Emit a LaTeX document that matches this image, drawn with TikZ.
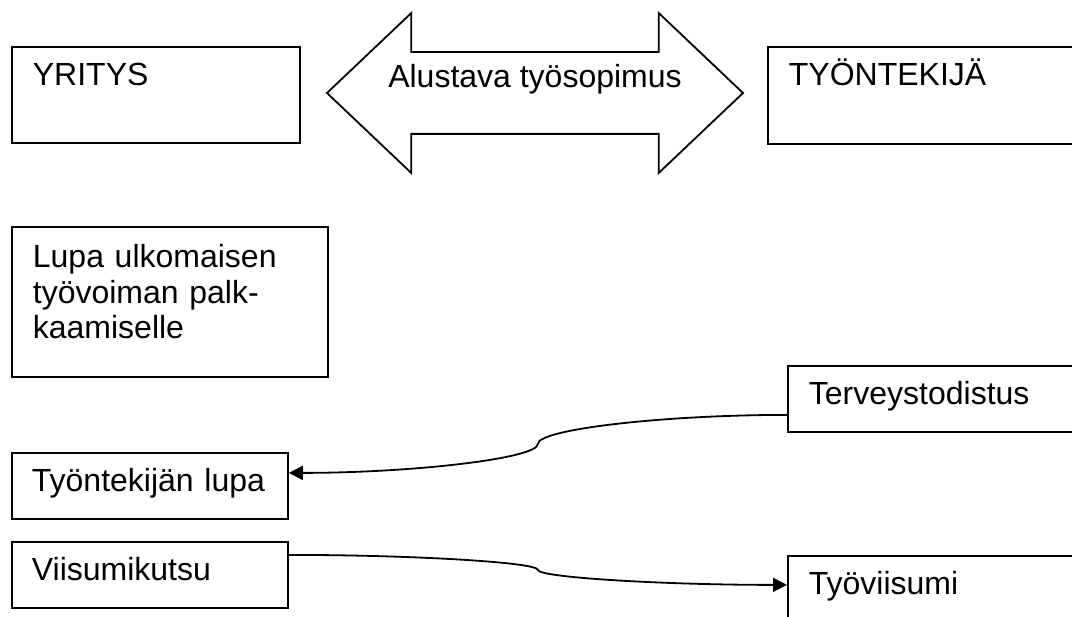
\documentclass[tikz,border=0pt]{standalone}
\usepackage{fontspec}
\setmainfont{Liberation Sans}
\usetikzlibrary{arrows.meta,shapes.arrows,calc}
\begin{document}
\begin{tikzpicture}[x=1pt, y=-1pt, font=\fontsize{32}{35.5}\selectfont, line join=miter,
    box/.style={draw, line width=1.8pt, anchor=north west, align=left, inner xsep=21pt, inner ysep=17pt, text height=22pt},
    link/.style={line width=1.8pt, -{Triangle[length=14pt,width=14pt]}},
    bent/.style={to path={let \p1=(\tikztostart), \p2=(\tikztotarget) in
        .. controls ({(3*\x1+\x2)/4},\y1) and ({(\x1+\x2)/2},{(3*\y1+\y2)/4}) .. ({(\x1+\x2)/2},{(\y1+\y2)/2})
        .. controls ({(\x1+\x2)/2},{(\y1+3*\y2)/4}) and ({(\x1+3*\x2)/4},\y2) .. (\tikztotarget)}}]
    \clip (0,0) rectangle (1072,617);
    \node[box, text width=246pt, text depth=40pt] (yritys) at (11,46) {YRITYS};
    \node[box, text width=400pt, text depth=41pt] (tyontekija) at (767,46) {TYÖNTEKIJÄ};
    \node[draw, line width=1.8pt, double arrow, double arrow head extend=39pt, double arrow tip angle=87,
        minimum height=416pt, inner xsep=0pt, inner ysep=0pt, text height=35pt, text depth=45pt] (sopimus) at (535,93) {Alustava työsopimus};
    \node[box, text width=274pt, text height=24pt, text depth=92pt] (lupa) at (11,226) {Lupa ulkomaisen\\työvoiman palk-\\kaamiselle};
    \node[box, text width=400pt, text depth=10pt] (terveys) at (787,365) {Terveystodistus};
    \node[box, inner xsep=20pt, text width=236pt, text depth=10pt] (tlupa) at (11,452) {Työntekijän lupa};
    \node[box, inner xsep=20pt, text width=236pt, text depth=10pt] (kutsu) at (11,541) {Viisumikutsu};
    \node[box, text width=400pt, text depth=60pt] (viisumi) at (787,555) {Työviisumi};
    \draw[link] ([yshift=-16pt]terveys.west) to[bent] ([yshift=13pt]tlupa.east);
    \draw[link] ([yshift=20pt]kutsu.east) to[bent] ([yshift=29pt]viisumi.west);
\end{tikzpicture}
\end{document}
